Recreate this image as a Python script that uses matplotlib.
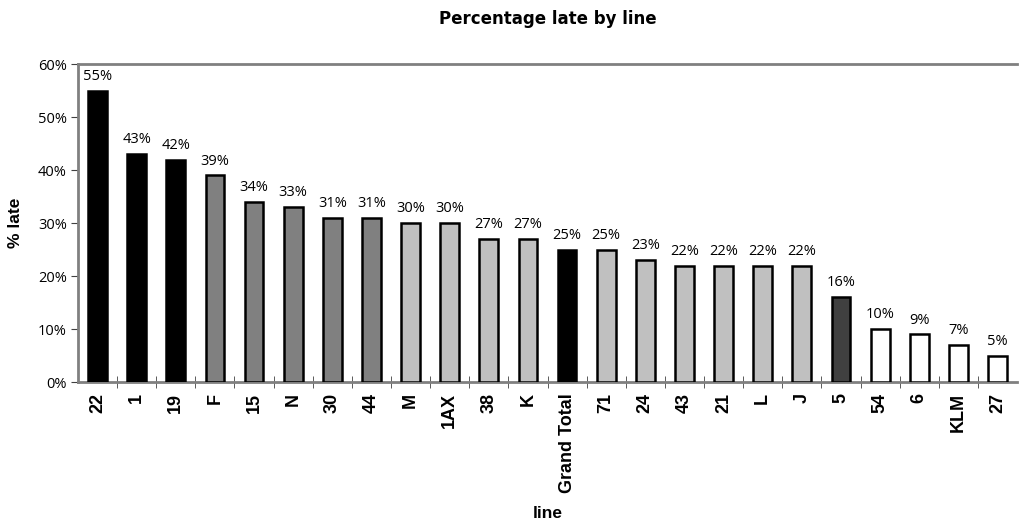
#!/usr/bin/env python3

import numpy as np
import matplotlib
matplotlib.use('Agg')
import matplotlib.pyplot as plt
from matplotlib.ticker import PercentFormatter

lines = ['22', '1', '19', 'F', '15', 'N', '30', '44', 'M', '1AX', '38', 'K',
         'Grand Total', '71', '24', '43', '21', 'L', 'J', '5', '54', '6', 'KLM', '27']
pct_late = [55, 43, 42, 39, 34, 33, 31, 31, 30, 30, 27, 27,
            25, 25, 23, 22, 22, 22, 22, 16, 10, 9, 7, 5]
bar_colors = ['#000000', '#000000', '#000000',
              '#808080', '#808080', '#808080', '#808080', '#808080',
              '#c0c0c0', '#c0c0c0', '#c0c0c0', '#c0c0c0',
              '#000000',
              '#c0c0c0', '#c0c0c0', '#c0c0c0', '#c0c0c0', '#c0c0c0', '#c0c0c0',
              '#404040',
              '#ffffff', '#ffffff', '#ffffff', '#ffffff']


def main():
    plt.rcParams['font.family'] = ['Liberation Sans', 'DejaVu Sans']
    fig = plt.figure(figsize=(10.23, 5.22), dpi=100)
    ax = fig.add_axes([0.0762, 0.268, 0.918, 0.609])

    x = np.arange(len(lines))
    ax.bar(x, pct_late, width=0.48, color=bar_colors,
           edgecolor='black', linewidth=1.8, zorder=3)

    for xi, v in zip(x, pct_late):
        ax.text(xi, v + 1.3, '{}%'.format(v), ha='center', va='bottom',
                fontsize=10.5, family=['Open Sans', 'DejaVu Sans'])

    ax.set_xlim(-0.5, len(lines) - 0.5)
    ax.set_ylim(0, 60)
    ax.set_yticks(np.arange(0, 61, 10))
    ax.yaxis.set_major_formatter(PercentFormatter(decimals=0))
    ax.tick_params(axis='y', direction='out', length=5, color='#404040',
                   labelsize=10.5, pad=3)
    for lab in ax.get_yticklabels():
        lab.set_family(['Open Sans', 'DejaVu Sans'])

    ax.set_xticks(x)
    ax.set_xticklabels(lines, rotation=90, fontweight='bold', fontsize=13)
    ax.tick_params(axis='x', length=0, pad=8)
    ax.set_xticks(x[:-1] + 0.5, minor=True)
    ax.tick_params(axis='x', which='minor', direction='inout', length=8,
                   color='#404040')

    ax.spines['right'].set_visible(False)
    for side in ('left', 'bottom', 'top'):
        ax.spines[side].set_color('#808080')
        ax.spines[side].set_linewidth(2)

    ax.set_title('Percentage late by line', fontweight='bold', fontsize=12,
                 family=['DejaVu Sans'], pad=29)
    ax.set_ylabel('% late', fontweight='bold', fontsize=12.5)
    ax.yaxis.set_label_coords(-0.058, 0.5)
    ax.set_xlabel('line', fontweight='bold', fontsize=12.5)
    ax.xaxis.set_label_coords(0.5, -0.39)

    fig.savefig('out.png', dpi=100)


if __name__ == '__main__':
    main()
